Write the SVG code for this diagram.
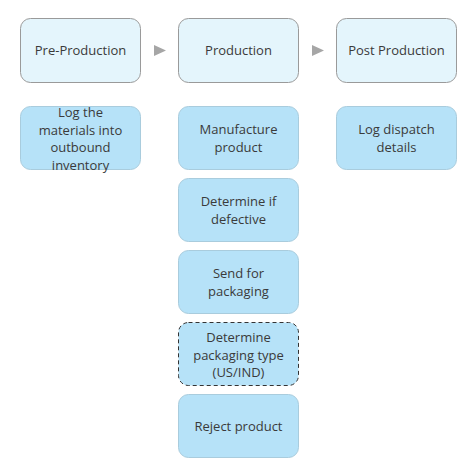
<svg xmlns="http://www.w3.org/2000/svg" width="474" height="476" viewBox="0 0 474 476">
<style>
.hd{fill:#E4F5FC;stroke:#9A9A9A;stroke-width:1}
.sb{fill:#B6E2F8;stroke:#A9CCDD;stroke-width:1}
.dash{fill:#B6E2F8;stroke:#333;stroke-width:1;stroke-dasharray:4 3}
text{font-family:"Open Sans","Noto Sans",sans-serif;font-size:13px;fill:#3a3a3a;text-anchor:middle}
.ar{fill:#A6A6A6}
</style>
<rect width="474" height="476" fill="#fff"/>
<g id="connectors">
<polygon class="ar" points="154,45 166,50.5 154,56"/>
<polygon class="ar" points="312,45 324,50.5 312,56"/>
</g>
<g id="pre-production"><rect class="hd" x="20.5" y="18.5" width="120" height="64" rx="10"/><text x="80.5" y="55">Pre-Production</text></g>
<g id="production"><rect class="hd" x="178.5" y="18.5" width="120" height="64" rx="10"/><text x="238.5" y="55">Production</text></g>
<g id="post-production"><rect class="hd" x="336.5" y="18.5" width="120" height="64" rx="10"/><text x="396.5" y="55">Post Production</text></g>
<g id="log-materials"><rect class="sb" x="20.5" y="106.5" width="120" height="63" rx="10"/><text x="80.5" y="117">Log the</text><text x="80.5" y="134.5">materials into</text><text x="80.5" y="152">outbound</text><text x="80.5" y="169.5">inventory</text></g>
<g id="manufacture"><rect class="sb" x="178.5" y="106.5" width="120" height="63" rx="10"/><text x="238.5" y="134">Manufacture</text><text x="238.5" y="151.5">product</text></g>
<g id="log-dispatch"><rect class="sb" x="336.5" y="106.5" width="120" height="63" rx="10"/><text x="396.5" y="134">Log dispatch</text><text x="396.5" y="151.5">details</text></g>
<g id="defective"><rect class="sb" x="178.5" y="178.5" width="120" height="63" rx="10"/><text x="238.5" y="206">Determine if</text><text x="238.5" y="223.5">defective</text></g>
<g id="send-packaging"><rect class="sb" x="178.5" y="250.5" width="120" height="63" rx="10"/><text x="238.5" y="278">Send for</text><text x="238.5" y="295.5">packaging</text></g>
<g id="packaging-type"><rect class="dash" x="178.5" y="322.5" width="120" height="63" rx="10"/><text x="238.5" y="342">Determine</text><text x="238.5" y="359.5">packaging type</text><text x="238.5" y="377">(US/IND)</text></g>
<g id="reject"><rect class="sb" x="178.5" y="394.5" width="120" height="63" rx="10"/><text x="238.5" y="431">Reject product</text></g>
</svg>
